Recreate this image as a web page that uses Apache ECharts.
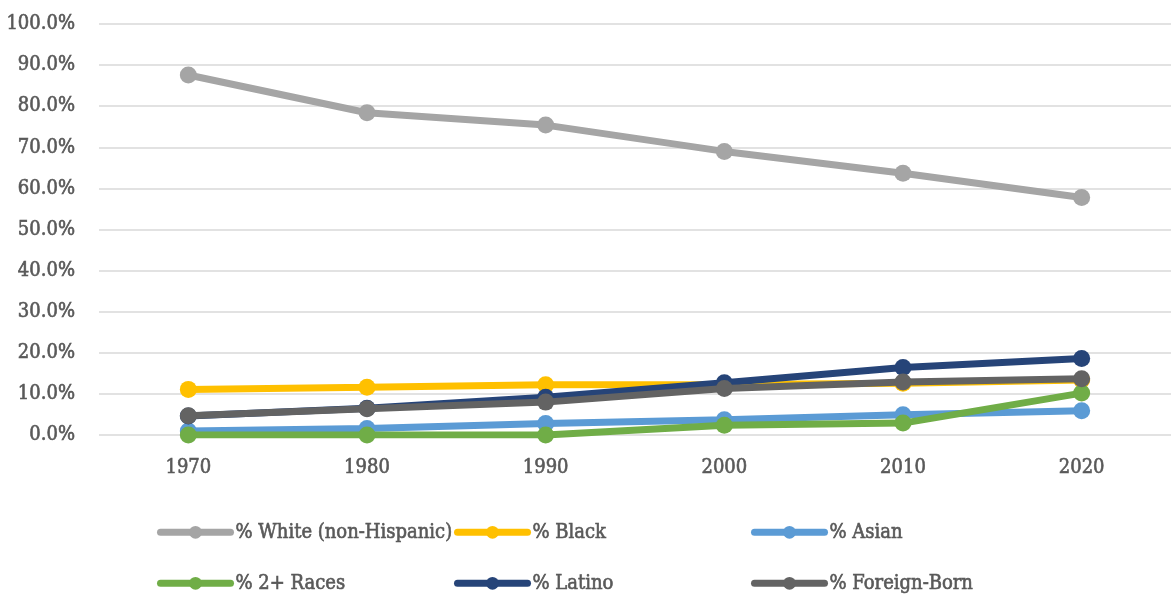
<!DOCTYPE html>
<html><head><meta charset="utf-8">
<script src="https://cdn.jsdelivr.net/npm/echarts@6/dist/echarts.min.js"></script>
<style>html,body{margin:0;padding:0;background:#fff}#c{width:1171px;height:597px}</style>
</head><body><div id="c"></div>
<script>
const years = ['1970','1980','1990','2000','2010','2020'];
const seriesNames = ['% White (non-Hispanic)','% Black','% Asian','% 2+ Races','% Latino','% Foreign-Born'];
const white = [87.6, 78.4, 75.4, 69.0, 63.7, 57.8];
const black = [11.1, 11.6, 12.2, 12.3, 12.6, 13.4];
const asian = [1.0, 1.6, 2.8, 3.7, 4.9, 5.9];
const twoPlus = [0, 0, 0, 2.4, 2.9, 10.2];
const latino = [4.6, 6.5, 9.2, 12.7, 16.4, 18.6];
const foreign = [4.7, 6.4, 8.0, 11.3, 12.9, 13.7];
const colors = ['#A5A5A5','#FFC000','#5B9BD5','#70AD47','#264478','#636363'];
const values = [white, black, asian, twoPlus, latino, foreign];

const FONT = '"DejaVu Serif Condensed", "Liberation Sans Narrow", "DejaVu Sans Condensed", serif';
const TXT = {fontFamily: FONT, fontSize: 20, color: '#595959', textBorderColor: '#595959', textBorderWidth: 0.6};
const chart = echarts.init(document.getElementById('c'));
const colLeft = [152, 449, 746];
const rowTop = [517, 568];
const legends = seriesNames.map((n, i) => ({
  left: colLeft[i % 3], top: rowTop[Math.floor(i / 3)],
  itemWidth: 70, itemHeight: 16, itemGap: 0,
  lineStyle: {width: 7, cap: 'round'},
  textStyle: Object.assign({}, TXT),
  selectedMode: false,
  data: [n]
}));
chart.setOption({
  animation: false,
  grid: {left: 99, right: -5, top: 24, bottom: 162},
  xAxis: {
    type: 'category', data: years, boundaryGap: true,
    axisLine: {show: false}, axisTick: {show: false},
    axisLabel: Object.assign({margin: 23}, TXT)
  },
  yAxis: {
    type: 'value', min: 0, max: 100, interval: 10,
    axisLabel: Object.assign({margin: 24, formatter: v => v.toFixed(1) + '%'}, TXT),
    splitLine: {lineStyle: {color: '#D9D9D9', width: 1.5}}
  },
  legend: legends,
  series: seriesNames.map((n, i) => ({
    name: n, type: 'line', data: values[i],
    symbol: 'circle', symbolSize: 17,
    lineStyle: {width: 7, color: colors[i]},
    itemStyle: {color: colors[i]},
    z: 2 + i
  }))
});
</script></body></html>
